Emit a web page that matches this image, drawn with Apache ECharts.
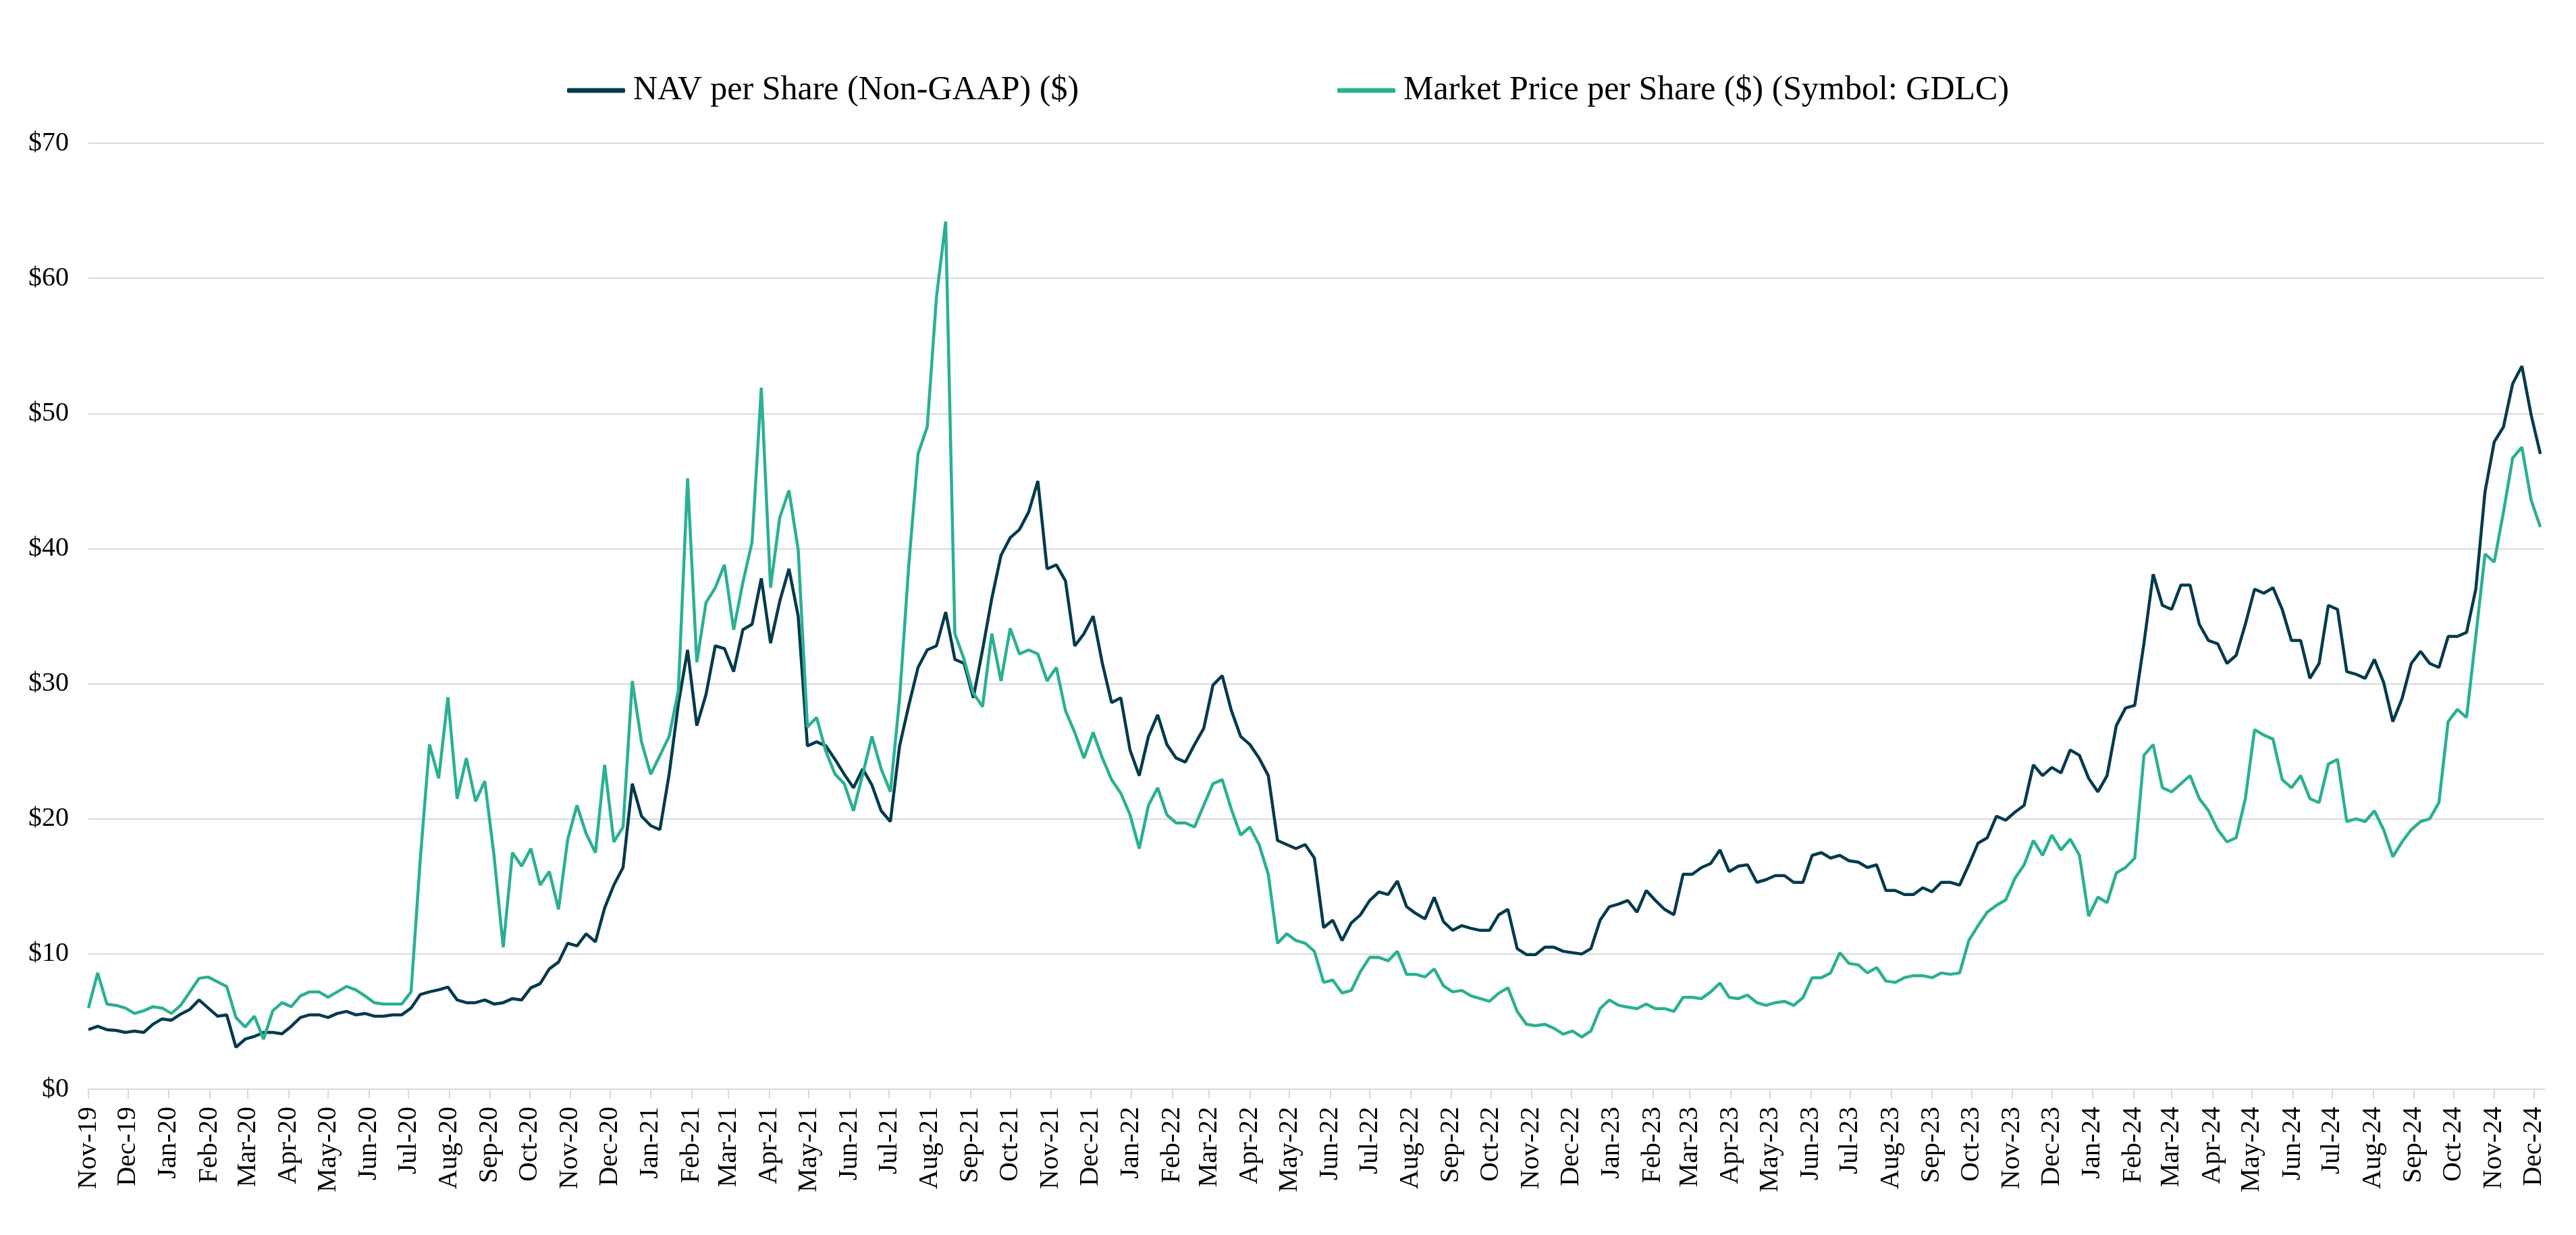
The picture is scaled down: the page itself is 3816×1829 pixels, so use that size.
<!DOCTYPE html>
<html>
<head>
<meta charset="utf-8">
<script src="https://cdn.jsdelivr.net/npm/echarts@6/dist/echarts.min.js"></script>
<style>
html,body{margin:0;padding:0;background:#ffffff;}
#chart{width:3816px;height:1829px;}
</style>
</head>
<body>
<div id="chart"></div>
<script>
// ---- series names ----
const navName = 'NAV per Share (Non-GAAP) ($)';
const priceName = 'Market Price per Share ($) (Symbol: GDLC)';

// ---- sampling: weekly observations starting at this date ----
const firstObservation = [2019, 10, 1]; // 1 Nov 2019 (UTC, month 0-based)
const axisEndDate = [2024, 11, 9];      // 9 Dec 2024

// ---- x-axis month tick labels ----
const monthLabels = [
  'Nov-19','Dec-19',
  'Jan-20','Feb-20','Mar-20','Apr-20','May-20','Jun-20','Jul-20','Aug-20','Sep-20','Oct-20','Nov-20','Dec-20',
  'Jan-21','Feb-21','Mar-21','Apr-21','May-21','Jun-21','Jul-21','Aug-21','Sep-21','Oct-21','Nov-21','Dec-21',
  'Jan-22','Feb-22','Mar-22','Apr-22','May-22','Jun-22','Jul-22','Aug-22','Sep-22','Oct-22','Nov-22','Dec-22',
  'Jan-23','Feb-23','Mar-23','Apr-23','May-23','Jun-23','Jul-23','Aug-23','Sep-23','Oct-23','Nov-23','Dec-23',
  'Jan-24','Feb-24','Mar-24','Apr-24','May-24','Jun-24','Jul-24','Aug-24','Sep-24','Oct-24','Nov-24','Dec-24'
];

// ---- NAV per share, weekly ----
const nav2019 = [4.4, 4.65, 4.4, 4.35, 4.2, 4.3, 4.2, 4.8, 5.2];
const nav2020 = [5.1, 5.55, 5.9, 6.6, 6.0, 5.4, 5.5, 3.1, 3.7, 3.9, 4.2, 4.2, 4.1, 4.65, 5.3, 5.5, 5.5, 5.3, 5.6, 5.75,
  5.5, 5.6, 5.4, 5.4, 5.5, 5.5, 6.0, 7.0, 7.2, 7.35, 7.55, 6.6, 6.4, 6.4, 6.6, 6.3, 6.4, 6.7, 6.6, 7.5,
  7.8, 8.9, 9.4, 10.8, 10.6, 11.5, 10.9, 13.4, 15.1, 16.4, 22.6, 20.2];
const nav2021 = [19.5, 19.2, 23.3, 28.5, 32.5, 26.9, 29.2, 32.8, 32.6, 30.9, 34.0, 34.4, 37.8, 33.0, 36.1, 38.5, 35.0, 25.4, 25.7, 25.4,
  24.4, 23.3, 22.3, 23.7, 22.5, 20.6, 19.8, 25.4, 28.4, 31.2, 32.5, 32.8, 35.3, 31.8, 31.5, 28.96, 32.5, 36.3, 39.5, 40.8,
  41.4, 42.7, 45.0, 38.5, 38.8, 37.6, 32.8, 33.7, 35.0, 31.5, 28.6, 28.96, 25.1];
const nav2022 = [23.2, 26.1, 27.7, 25.5, 24.5, 24.2, 25.5, 26.7, 29.9, 30.6, 28.0, 26.1, 25.5, 24.5, 23.2, 18.4, 18.1, 17.8, 18.1, 17.1,
  11.96, 12.5, 11.0, 12.3, 12.9, 13.96, 14.6, 14.4, 15.4, 13.5, 13.0, 12.6, 14.2, 12.4, 11.75, 12.1, 11.9, 11.75, 11.75, 12.9,
  13.3, 10.4, 9.96, 9.96, 10.5, 10.5, 10.2, 10.1, 10.0, 10.4, 12.5, 13.5];
const nav2023 = [13.7, 13.96, 13.1, 14.7, 13.96, 13.3, 12.9, 15.9, 15.9, 16.4, 16.7, 17.7, 16.1, 16.5, 16.6, 15.3, 15.5, 15.8, 15.8, 15.3,
  15.3, 17.3, 17.5, 17.1, 17.3, 16.9, 16.8, 16.4, 16.6, 14.7, 14.7, 14.4, 14.4, 14.9, 14.6, 15.3, 15.3, 15.1, 16.6, 18.2,
  18.6, 20.2, 19.9, 20.5, 21.0, 24.0, 23.2, 23.8, 23.4, 25.1, 24.7, 23.0];
const nav2024 = [22.0, 23.2, 26.9, 28.2, 28.4, 33.0, 38.1, 35.8, 35.5, 37.3, 37.3, 34.4, 33.2, 32.96, 31.5, 32.1, 34.4, 37.0, 36.7, 37.1,
  35.5, 33.2, 33.2, 30.4, 31.5, 35.8, 35.5, 30.9, 30.7, 30.4, 31.8, 30.1, 27.2, 28.9, 31.5, 32.4, 31.5, 31.2, 33.5, 33.5,
  33.8, 37.0, 44.2, 47.9, 49.0, 52.2, 53.5, 49.9, 47.0];

// ---- Market price per share, weekly ----
const price2019 = [6.0, 8.6, 6.3, 6.2, 6.0, 5.6, 5.8, 6.1, 6.0];
const price2020 = [5.6, 6.2, 7.2, 8.2, 8.3, 7.95, 7.6, 5.3, 4.6, 5.4, 3.7, 5.8, 6.4, 6.1, 6.9, 7.2, 7.2, 6.8, 7.2, 7.6,
  7.35, 6.9, 6.4, 6.3, 6.3, 6.3, 7.2, 17.0, 25.5, 23.0, 29.0, 21.5, 24.5, 21.3, 22.8, 17.3, 10.5, 17.5, 16.5, 17.8,
  15.1, 16.1, 13.3, 18.5, 21.0, 18.9, 17.5, 24.0, 18.3, 19.4, 30.2, 25.7];
const price2021 = [23.3, 24.7, 26.1, 29.5, 45.2, 31.6, 36.0, 37.1, 38.8, 34.0, 37.5, 40.5, 51.9, 37.1, 42.3, 44.3, 39.9, 26.8, 27.5, 25.0,
  23.3, 22.6, 20.6, 23.3, 26.1, 23.7, 22.0, 28.9, 38.8, 47.0, 49.0, 58.6, 64.2, 33.7, 31.8, 29.3, 28.3, 33.7, 30.2, 34.1,
  32.2, 32.5, 32.2, 30.2, 31.2, 28.0, 26.4, 24.5, 26.4, 24.5, 22.9, 21.9, 20.3];
const price2022 = [17.8, 21.0, 22.3, 20.3, 19.7, 19.7, 19.4, 21.0, 22.6, 22.9, 20.7, 18.8, 19.4, 18.1, 15.9, 10.8, 11.5, 11.0, 10.8, 10.2,
  7.9, 8.07, 7.12, 7.3, 8.7, 9.75, 9.75, 9.5, 10.2, 8.5, 8.5, 8.3, 8.9, 7.65, 7.2, 7.3, 6.9, 6.7, 6.5, 7.1,
  7.5, 5.75, 4.8, 4.7, 4.8, 4.5, 4.07, 4.3, 3.86, 4.3, 5.96, 6.6];
const price2023 = [6.2, 6.07, 5.96, 6.3, 5.96, 5.96, 5.75, 6.8, 6.8, 6.7, 7.2, 7.85, 6.8, 6.7, 6.96, 6.4, 6.2, 6.4, 6.5, 6.2,
  6.77, 8.25, 8.25, 8.6, 10.1, 9.3, 9.2, 8.6, 9.0, 8.0, 7.9, 8.25, 8.4, 8.4, 8.25, 8.6, 8.5, 8.6, 11.0, 12.1,
  13.1, 13.6, 14.0, 15.6, 16.6, 18.4, 17.3, 18.8, 17.7, 18.5, 17.3, 12.8];
const price2024 = [14.2, 13.8, 16.0, 16.4, 17.1, 24.7, 25.5, 22.3, 22.0, 22.6, 23.2, 21.5, 20.6, 19.2, 18.3, 18.6, 21.5, 26.6, 26.2, 25.9,
  22.9, 22.3, 23.2, 21.5, 21.2, 24.06, 24.4, 19.8, 20.0, 19.8, 20.6, 19.2, 17.2, 18.3, 19.2, 19.8, 20.0, 21.2, 27.2, 28.1,
  27.5, 33.5, 39.6, 39.0, 42.7, 46.7, 47.5, 43.6, 41.6];

// ---- build ----
const DAY = 86400000, WEEK = 7 * DAY;
const t0 = Date.UTC(firstObservation[0], firstObservation[1], firstObservation[2]);
const tEnd = Date.UTC(axisEndDate[0], axisEndDate[1], axisEndDate[2]);
const navValues = [].concat(nav2019, nav2020, nav2021, nav2022, nav2023, nav2024);
const priceValues = [].concat(price2019, price2020, price2021, price2022, price2023, price2024);
const navData = navValues.map((v, i) => [t0 + i * WEEK, v]);
const priceData = priceValues.map((v, i) => [t0 + i * WEEK, v]);

const MONTHS = ['Jan','Feb','Mar','Apr','May','Jun','Jul','Aug','Sep','Oct','Nov','Dec'];
const tickValues = monthLabels.map(l => {
  const parts = l.split('-');
  return Date.UTC(2000 + parseInt(parts[1], 10), MONTHS.indexOf(parts[0]), 1);
});
const labelOf = {};
tickValues.forEach((t, i) => { labelOf[t] = monthLabels[i]; });
function fmtDate(v) {
  if (labelOf[v] !== undefined) return labelOf[v];
  const d = new Date(v);
  return MONTHS[d.getUTCMonth()] + '-' + String(d.getUTCFullYear()).slice(2);
}

const FONT = 'Liberation Serif';
const GRID = '#d9d9d9';
const chart = echarts.init(document.getElementById('chart'), null, { renderer: 'canvas' });
chart.setOption({
  animation: false,
  backgroundColor: '#ffffff',
  legend: {
    top: 104,
    left: 'center',
    icon: 'roundRect',
    itemWidth: 86,
    itemHeight: 7,
    itemGap: 383,
    textStyle: { fontFamily: FONT, fontSize: 50, color: '#000000', padding: [0, 0, 0, 7] },
    data: [navName, priceName]
  },
  grid: { left: 131, right: 47, top: 212, bottom: 216, containLabel: false },
  xAxis: {
    type: 'value',
    min: t0,
    max: tEnd,
    axisLine: { show: true, lineStyle: { color: GRID, width: 2 } },
    axisTick: { show: true, customValues: tickValues, length: 14, lineStyle: { color: GRID, width: 2 } },
    axisLabel: {
      customValues: tickValues,
      rotate: 90,
      margin: 26,
      fontFamily: FONT,
      fontSize: 40,
      color: '#000000',
      formatter: (v) => fmtDate(v)
    },
    splitLine: { show: false }
  },
  yAxis: {
    type: 'value',
    min: 0,
    max: 70,
    interval: 10,
    axisLine: { show: false },
    axisTick: { show: false },
    axisLabel: { margin: 29, fontFamily: FONT, fontSize: 40, color: '#000000', formatter: (v) => '$' + v },
    splitLine: { show: true, lineStyle: { color: GRID, width: 2 } }
  },
  series: [
    {
      name: navName, type: 'line', data: navData, showSymbol: false, symbol: 'none',
      lineStyle: { color: '#033a4c', width: 4.5 }, itemStyle: { color: '#033a4c' }
    },
    {
      name: priceName, type: 'line', data: priceData, showSymbol: false, symbol: 'none',
      lineStyle: { color: '#2ab092', width: 4.5 }, itemStyle: { color: '#2ab092' }
    }
  ]
});
</script>
</body>
</html>
